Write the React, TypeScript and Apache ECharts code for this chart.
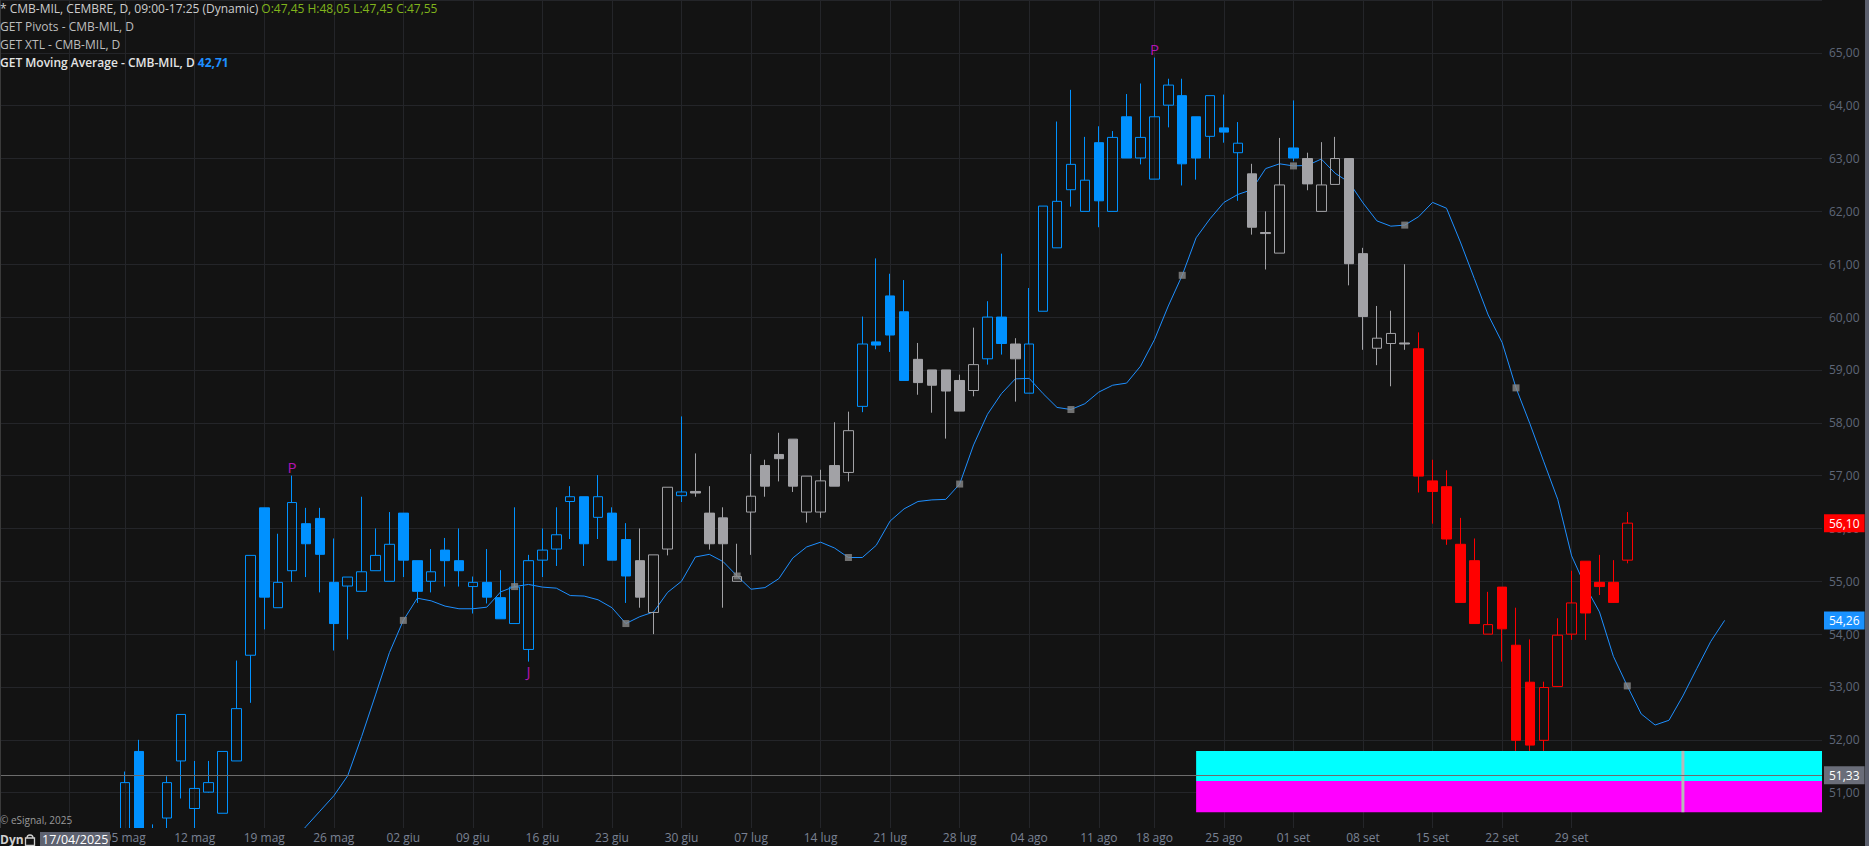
import React, { useEffect, useRef } from "react";
import * as echarts from "echarts";

// ---------- DATA ----------
const dates: string[] = [
  "2025-04-17", "2025-04-22", "2025-04-23", "2025-04-24", "2025-04-25", "2025-04-28", "2025-04-29", "2025-04-30", "2025-05-02", "2025-05-05",
  "2025-05-06", "2025-05-07", "2025-05-08", "2025-05-09", "2025-05-12", "2025-05-13", "2025-05-14", "2025-05-15", "2025-05-16", "2025-05-19",
  "2025-05-20", "2025-05-21", "2025-05-22", "2025-05-23", "2025-05-26", "2025-05-27", "2025-05-28", "2025-05-29", "2025-05-30", "2025-06-02",
  "2025-06-03", "2025-06-04", "2025-06-05", "2025-06-06", "2025-06-09", "2025-06-10", "2025-06-11", "2025-06-12", "2025-06-13", "2025-06-16",
  "2025-06-17", "2025-06-18", "2025-06-19", "2025-06-20", "2025-06-23", "2025-06-24", "2025-06-25", "2025-06-26", "2025-06-27", "2025-06-30",
  "2025-07-01", "2025-07-02", "2025-07-03", "2025-07-04", "2025-07-07", "2025-07-08", "2025-07-09", "2025-07-10", "2025-07-11", "2025-07-14",
  "2025-07-15", "2025-07-16", "2025-07-17", "2025-07-18", "2025-07-21", "2025-07-22", "2025-07-23", "2025-07-24", "2025-07-25", "2025-07-28",
  "2025-07-29", "2025-07-30", "2025-07-31", "2025-08-01", "2025-08-04", "2025-08-05", "2025-08-06", "2025-08-07", "2025-08-08", "2025-08-11",
  "2025-08-12", "2025-08-13", "2025-08-14", "2025-08-18", "2025-08-19", "2025-08-20", "2025-08-21", "2025-08-22", "2025-08-25", "2025-08-26",
  "2025-08-27", "2025-08-28", "2025-08-29", "2025-09-01", "2025-09-02", "2025-09-03", "2025-09-04", "2025-09-05", "2025-09-08", "2025-09-09",
  "2025-09-10", "2025-09-11", "2025-09-12", "2025-09-15", "2025-09-16", "2025-09-17", "2025-09-18", "2025-09-19", "2025-09-22", "2025-09-23",
  "2025-09-24", "2025-09-25", "2025-09-26", "2025-09-29", "2025-09-30", "2025-10-01", "2025-10-02", "2025-10-03", "2025-10-06", "2025-10-07",
  "2025-10-08", "2025-10-09", "2025-10-10", "2025-10-13", "2025-10-14", "2025-10-15", "2025-10-16", "2025-10-17", "2025-10-20", "2025-10-21",
  "2025-10-22", "2025-10-23",
];

const opens: (number | null)[] = [
  47.45, null, null, null, null, null, null, null, null, 50.0,
  51.78, 49.9, 50.52, 51.6, 50.7, 51.01, 50.61, 51.6, 53.6, 56.39,
  54.5, 55.2, 56.09, 56.19, 54.98, 54.91, 54.81, 55.2, 55.0, 56.29,
  55.39, 55.0, 55.59, 55.39, 54.9, 54.98, 54.69, 54.2, 53.71, 55.4,
  55.61, 56.51, 56.6, 56.21, 56.29, 55.79, 55.39, 54.41, 55.61, 56.62,
  56.7, 56.29, 56.2, 55.0, 56.31, 57.19, 57.4, 57.69, 56.31, 56.31,
  57.19, 57.06, 58.31, 59.53, 60.4, 60.1, 59.2, 59.0, 59.0, 58.8,
  58.61, 59.21, 60.0, 59.49, 58.56, 60.11, 61.31, 62.41, 62.0, 63.3,
  62.0, 63.79, 63.01, 62.61, 64.01, 64.19, 63.79, 63.42, 63.58, 63.11,
  62.71, 61.6, 61.21, 63.2, 63.0, 62.0, 62.51, 63.0, 61.2, 59.41,
  59.5, 59.51, 59.4, 56.9, 56.79, 55.7, 55.39, 54.0, 54.89, 53.79,
  53.09, 51.99, 53.01, 54.0, 55.38, 54.98, 54.98, 55.4,
];
const highs: (number | null)[] = [
  48.05, null, null, null, null, null, null, null, null, 51.4,
  52.0, 50.4, 51.31, 52.48, 51.6, 51.6, 51.78, 53.5, 55.49, 56.39,
  55.9, 57.0, 56.39, 56.39, 55.81, 55.08, 56.6, 56.0, 56.31, 56.29,
  55.39, 55.61, 55.82, 56.0, 55.09, 55.61, 55.21, 56.4, 55.5, 56.0,
  56.4, 56.8, 56.6, 57.01, 56.4, 56.1, 56.0, 55.5, 56.78, 58.12,
  57.42, 56.8, 56.4, 55.71, 57.41, 57.3, 57.81, 57.69, 56.99, 57.11,
  58.01, 58.21, 60.01, 61.11, 60.82, 60.7, 59.51, 59.0, 59.0, 58.91,
  59.8, 60.3, 61.2, 59.6, 60.55, 62.1, 63.7, 64.3, 63.41, 63.61,
  63.52, 64.22, 64.42, 64.91, 64.51, 64.51, 63.79, 64.19, 64.21, 63.69,
  62.9, 62.0, 63.39, 64.1, 63.11, 63.31, 63.41, 63.0, 61.31, 60.21,
  60.12, 61.0, 59.71, 57.3, 57.1, 56.2, 55.81, 54.8, 54.89, 54.5,
  53.9, 53.1, 54.3, 55.2, 55.38, 55.5, 55.4, 56.31,
];
const lows: (number | null)[] = [
  47.45, null, null, null, null, null, null, null, null, 49.9,
  49.8, 49.8, 50.2, 50.89, 50.2, 51.0, 50.61, 51.6, 52.7, 54.09,
  54.5, 54.99, 55.08, 54.79, 53.69, 53.9, 54.81, 55.2, 55.0, 55.08,
  54.59, 54.79, 54.9, 54.9, 54.39, 54.58, 54.29, 54.2, 53.48, 55.08,
  55.29, 55.8, 55.29, 55.8, 55.4, 54.59, 54.5, 54.0, 55.49, 56.5,
  56.6, 55.6, 54.5, 55.0, 55.5, 56.6, 56.89, 56.69, 56.11, 56.2,
  56.8, 56.89, 58.2, 59.39, 59.34, 58.8, 58.53, 58.19, 57.7, 58.22,
  58.5, 59.1, 59.29, 58.4, 58.56, 60.11, 61.31, 62.09, 62.0, 61.7,
  62.0, 63.01, 62.89, 62.61, 63.59, 62.49, 62.6, 63.0, 63.3, 62.2,
  61.56, 60.9, 61.21, 62.95, 62.4, 62.0, 62.51, 60.6, 59.38, 59.09,
  58.69, 59.38, 56.68, 56.09, 55.69, 54.6, 54.2, 54.0, 53.48, 51.79,
  51.79, 51.79, 53.01, 53.89, 53.89, 54.74, 54.74, 55.34,
];
const closes: (number | null)[] = [
  47.55, null, null, null, null, null, null, null, null, 51.19,
  50.0, 50.2, 51.19, 52.48, 51.08, 51.19, 51.78, 52.59, 55.49, 54.7,
  54.98, 56.49, 55.71, 55.51, 54.2, 55.08, 55.18, 55.49, 55.7, 55.4,
  54.81, 55.18, 55.39, 55.2, 54.98, 54.7, 54.29, 54.89, 55.39, 55.59,
  55.88, 56.6, 55.71, 56.6, 55.4, 55.1, 54.7, 55.5, 56.78, 56.69,
  56.67, 55.71, 55.71, 55.09, 56.61, 56.8, 57.32, 56.8, 56.99, 56.9,
  56.8, 57.85, 59.49, 59.47, 59.66, 58.8, 58.76, 58.71, 58.6, 58.22,
  59.1, 60.0, 59.5, 59.21, 59.49, 62.1, 62.19, 62.89, 62.59, 62.2,
  63.4, 63.01, 63.4, 63.79, 64.39, 62.9, 63.01, 64.19, 63.5, 63.29,
  61.7, 61.58, 62.5, 63.01, 62.52, 62.5, 63.0, 61.01, 60.01, 59.6,
  59.69, 59.49, 56.99, 56.7, 55.8, 54.6, 54.2, 54.18, 54.1, 51.99,
  51.9, 52.99, 53.98, 54.59, 54.4, 54.9, 54.6, 56.1,
];
// XTL trend state of every bar: B = bullish (blue), G = neutral (grey), R = bearish (red)
const trend: string[] = [
  "B", "B", "B", "B", "B", "B", "B", "B", "B", "B",
  "B", "B", "B", "B", "B", "B", "B", "B", "B", "B",
  "B", "B", "B", "B", "B", "B", "B", "B", "B", "B",
  "B", "B", "B", "B", "B", "B", "B", "B", "B", "B",
  "B", "B", "B", "B", "B", "B", "G", "G", "G", "B",
  "G", "G", "G", "G", "G", "G", "G", "G", "G", "G",
  "G", "G", "B", "B", "B", "B", "G", "G", "G", "G",
  "G", "B", "B", "G", "B", "B", "B", "B", "B", "B",
  "B", "B", "B", "B", "B", "B", "B", "B", "B", "B",
  "G", "G", "G", "B", "G", "G", "G", "G", "G", "G",
  "G", "G", "R", "R", "R", "R", "R", "R", "R", "R",
  "R", "R", "R", "R", "R", "R", "R", "R",
];
// displaced moving average (extends into the future)
const maValues: (number | null)[] = [
  null, null, null, null, null, null, null, null, null, null,
  null, null, null, null, null, null, null, null, null, null,
  49.75, 50.05, 50.36, 50.65, 50.94, 51.32, 52.06, 52.85, 53.65, 54.26,
  54.68, 54.63, 54.53, 54.48, 54.48, 54.51, 54.8, 54.9, 54.94, 54.89,
  54.87, 54.73, 54.72, 54.65, 54.5, 54.2, 54.33, 54.42, 54.79, 55.0,
  55.46, 55.51, 55.37, 55.1, 54.85, 54.88, 55.05, 55.44, 55.65, 55.74,
  55.63, 55.45, 55.45, 55.68, 56.14, 56.37, 56.51, 56.54, 56.55, 56.84,
  57.58, 58.16, 58.55, 58.83, 58.84, 58.55, 58.29, 58.25, 58.36, 58.58,
  58.71, 58.75, 59.07, 59.57, 60.21, 60.79, 61.5, 61.86, 62.17, 62.32,
  62.41, 62.81, 62.9, 62.86, 62.87, 62.99, 62.72, 62.55, 62.16, 61.82,
  61.72, 61.74, 61.9, 62.17, 62.06, 61.42, 60.73, 60.04, 59.52, 58.66,
  57.98, 57.26, 56.55, 55.48, 54.9, 54.42, 53.58, 53.02, 52.49, 52.28,
  52.37, 52.83, 53.35, 53.86, 54.26, null, null, null, null, null,
  null, null,
];
const pivotHighDates = ["2025-05-21", "2025-08-18"];
const pivotLowDates = ["2025-06-13"];
const crossPrice = 51.33;
const maHeaderValue = 42.71;
const zoneStart = "2025-08-21";
const zoneEnd = "2025-10-23";
const zoneLevels = [51.79, 51.22, 50.63]; // cyan top, boundary, magenta bottom
const zoneMarkerDate = "2025-10-09";
const firstLabelDate = "2025-05-05";
const monthsIt = ["gen", "feb", "mar", "apr", "mag", "giu", "lug", "ago", "set", "ott", "nov", "dic"];

// ---------- STYLE ----------
const FONT = '"Open Sans", "Noto Sans", sans-serif';
const BG = "#131313";
const GRID = "#242529";
const COLORS: Record<string, string> = { B: "#0091ff", G: "#a2a2a6", R: "#ff0000" };

const fmt = (v: number) => v.toFixed(2).replace(".", ",");
const lastDataIndex = opens.length - 1;
const firstLabelIndex = dates.indexOf(firstLabelDate);
const isMonday = (value: string) => new Date(value + "T00:00:00Z").getUTCDay() === 1;
const isGridDay = (index: number, value: string) => index <= lastDataIndex && isMonday(value);
const isLabelDay = (index: number, value: string) =>
  index >= firstLabelIndex && index <= lastDataIndex && isMonday(value);
const fmtDate = (value: string) => {
  const [, m, d] = value.split("-");
  return `${d} ${monthsIt[Number(m) - 1]}`;
};

export default function App() {
  const ref = useRef<HTMLDivElement>(null);

  useEffect(() => {
    if (!ref.current) return;
    const chart = echarts.init(ref.current, undefined, { renderer: "svg" });

    const candleData = opens.map((o, i) => {
      if (o == null) return "-";
      const c = COLORS[trend[i]];
      const fill = (closes[i] as number) >= o ? "transparent" : c;
      return {
        value: [o, closes[i], lows[i], highs[i]],
        itemStyle: { color: fill, color0: fill, borderColor: c, borderColor0: c, borderWidth: 1 },
      };
    });
    const maData = maValues.map((v) => (v == null ? "-" : v));
    const maMarkers = maValues
      .map((v, i) => (v != null && i % 8 === 5 ? [dates[i], v] : null))
      .filter((p) => p != null);
    const lastMa = [...maValues].reverse().find((v) => v != null) as number;
    const lastClose = closes[lastDataIndex] as number;
    const pivotHighs = pivotHighDates.map((d) => [d, highs[dates.indexOf(d)]]);
    const pivotLows = pivotLowDates.map((d) => [d, lows[dates.indexOf(d)]]);

    const tagLabel = (bg: string, text: string) => ({
      show: true,
      position: "end",
      distance: 2,
      formatter: text,
      backgroundColor: bg,
      color: "#ffffff",
      fontFamily: FONT,
      fontSize: 12,
      lineHeight: 14,
      padding: [2, 5, 2, 5],
    });

    const [y0, m0, d0] = dates[0].split("-");
    const headerOHLC = `O:${fmt(opens[0] as number)} H:${fmt(highs[0] as number)} L:${fmt(lows[0] as number)} C:${fmt(closes[0] as number)}`;

    const option: any = {
      animation: false,
      backgroundColor: BG,
      textStyle: { fontFamily: FONT },
      grid: [
        { left: 0, right: 47, top: -25.1, height: 870.6 },
        { left: 0, right: 47, top: 827, height: 1 },
      ],
      xAxis: [
        {
          type: "category",
          gridIndex: 0,
          data: dates,
          boundaryGap: false,
          axisLine: { show: false },
          axisTick: { show: false },
          axisLabel: { show: false },
          splitLine: { show: true, interval: isGridDay, lineStyle: { color: GRID, width: 1 } },
        },
        {
          type: "category",
          gridIndex: 1,
          data: dates,
          boundaryGap: false,
          z: 60,
          axisLine: { show: false },
          axisTick: { show: false },
          splitLine: { show: false },
          axisLabel: {
            interval: isLabelDay,
            formatter: fmtDate,
            color: "#7a8294",
            fontSize: 12,
            fontFamily: FONT,
            margin: 3,
          },
        },
      ],
      yAxis: [
        {
          type: "value",
          gridIndex: 0,
          position: "right",
          min: 50,
          max: 66,
          interval: 1,
          axisLine: { show: false },
          axisTick: { show: false },
          axisLabel: {
            formatter: (v: number) => (v <= 50 || v >= 66 ? "" : fmt(v)),
            color: "#5f6778",
            fontSize: 12,
            fontFamily: FONT,
            margin: 7,
          },
          splitLine: { show: true, lineStyle: { color: GRID, width: 1 } },
        },
        { type: "value", gridIndex: 1, show: false },
      ],
      series: [
        {
          type: "line",
          name: "MA",
          data: maData,
          symbol: "none",
          z: 1,
          silent: true,
          lineStyle: { color: "#1e8fff", width: 1 },
        },
        {
          type: "candlestick",
          name: "CMB",
          data: candleData,
          barWidth: 10,
          clip: true,
          z: 2,
          silent: true,
          markArea: {
            silent: true,
            label: { show: false },
            data: [
              [
                { xAxis: zoneStart, yAxis: zoneLevels[0], itemStyle: { color: "#00ffff", opacity: 1 } },
                { xAxis: zoneEnd, yAxis: zoneLevels[1] },
              ],
              [
                { xAxis: zoneStart, yAxis: zoneLevels[1], itemStyle: { color: "#ff00ff", opacity: 1 } },
                { xAxis: zoneEnd, yAxis: zoneLevels[2] },
              ],
            ],
          },
          markLine: {
            silent: true,
            symbol: ["none", "none"],
            data: [
              {
                yAxis: crossPrice,
                lineStyle: { color: "#6c6c6c", width: 1, type: "solid" },
                label: tagLabel("#6a6d79", fmt(crossPrice)),
              },
              {
                yAxis: lastClose,
                lineStyle: { color: "transparent", width: 1, type: "solid" },
                label: tagLabel("#ff0000", fmt(lastClose)),
              },
              {
                yAxis: lastMa,
                lineStyle: { color: "transparent", width: 1, type: "solid" },
                label: tagLabel("#1a92ff", fmt(lastMa)),
              },
            ],
          },
        },
        {
          type: "line",
          name: "zoneMarker",
          data: [
            [zoneMarkerDate, zoneLevels[0]],
            [zoneMarkerDate, zoneLevels[2]],
          ],
          symbol: "none",
          z: 4,
          silent: true,
          lineStyle: { color: "#b8b8b8", width: 3 },
        },
        {
          type: "scatter",
          name: "maMarkers",
          data: maMarkers,
          symbol: "rect",
          symbolSize: 7,
          z: 3,
          silent: true,
          itemStyle: { color: "#8a8a8a" },
        },
        {
          type: "scatter",
          name: "pivotHigh",
          data: pivotHighs,
          symbolSize: 1,
          z: 4,
          silent: true,
          itemStyle: { color: "transparent" },
          label: {
            show: true,
            position: "top",
            distance: 1,
            formatter: "P",
            color: "#dc14dc",
            fontSize: 15,
            fontFamily: FONT,
          },
        },
        {
          type: "scatter",
          name: "pivotLow",
          data: pivotLows,
          symbolSize: 1,
          z: 4,
          silent: true,
          itemStyle: { color: "transparent" },
          label: {
            show: true,
            position: "bottom",
            distance: 1,
            formatter: "J",
            color: "#dc14dc",
            fontSize: 15,
            fontFamily: FONT,
          },
        },
      ],
      graphic: [
        // band below the plot area (x axis labels)
        { type: "rect", z: 50, silent: true, shape: { x: 0, y: 828, width: 1822, height: 18 }, style: { fill: BG } },
        // left border
        { type: "line", z: 51, silent: true, shape: { x1: 0.5, y1: 0, x2: 0.5, y2: 828 }, style: { stroke: "#3a3a3a", lineWidth: 1 } },
        // right scroll strip
        { type: "rect", z: 51, silent: true, shape: { x: 1865, y: 0, width: 4, height: 846 }, style: { fill: "#5c606e" } },
        // header
        {
          type: "text",
          z: 100,
          x: 0,
          y: 8,
          silent: true,
          style: {
            text: `{a|* CMB-MIL, CEMBRE, D, 09:00-17:25 (Dynamic) }{b|${headerOHLC}}`,
            verticalAlign: "middle",
            rich: {
              a: { fill: "#cdcdcd", color: "#cdcdcd", fontSize: 12, fontFamily: FONT },
              b: { fill: "#80b41c", color: "#80b41c", fontSize: 12, fontFamily: FONT },
            },
          },
        },
        {
          type: "text",
          z: 100,
          x: 0,
          y: 26.5,
          silent: true,
          style: { text: "GET Pivots - CMB-MIL, D", fill: "#bdbdbd", fontSize: 12, fontFamily: FONT, verticalAlign: "middle" },
        },
        {
          type: "text",
          z: 100,
          x: 0,
          y: 44.5,
          silent: true,
          style: { text: "GET XTL - CMB-MIL, D", fill: "#bdbdbd", fontSize: 12, fontFamily: FONT, verticalAlign: "middle" },
        },
        {
          type: "text",
          z: 100,
          x: 0,
          y: 62,
          silent: true,
          style: {
            text: `{a|GET Moving Average - CMB-MIL, D }{b|${fmt(maHeaderValue)}}`,
            verticalAlign: "middle",
            rich: {
              a: { fill: "#e4e4e4", color: "#e4e4e4", fontSize: 12, fontWeight: 600, fontFamily: FONT },
              b: { fill: "#1e8fff", color: "#1e8fff", fontSize: 12, fontWeight: 700, fontFamily: FONT },
            },
          },
        },
        // footer
        {
          type: "text",
          z: 100,
          x: 0,
          y: 820,
          silent: true,
          style: { text: "© eSignal, 2025", fill: "#9a9a9a", fontSize: 10, fontFamily: FONT, verticalAlign: "middle" },
        },
        {
          type: "text",
          z: 100,
          x: 0,
          y: 839,
          silent: true,
          style: { text: "Dyn", fill: "#d0d0d0", fontSize: 12, fontWeight: 700, fontFamily: FONT, verticalAlign: "middle" },
        },
        { type: "rect", z: 100, silent: true, shape: { x: 25.5, y: 838, width: 9, height: 7.5 }, style: { fill: "none", stroke: "#cfcfcf", lineWidth: 1.3 } },
        {
          type: "arc",
          z: 100,
          silent: true,
          shape: { cx: 30, cy: 838, r: 3, startAngle: Math.PI, endAngle: Math.PI * 2, clockwise: true },
          style: { fill: "none", stroke: "#cfcfcf", lineWidth: 1.3 },
        },
        { type: "rect", z: 100, silent: true, shape: { x: 40, y: 832, width: 70, height: 14 }, style: { fill: "#5e6270" } },
        {
          type: "text",
          z: 101,
          x: 42,
          y: 839.5,
          silent: true,
          style: { text: `${d0}/${m0}/${y0}`, fill: "#ffffff", fontSize: 12.5, fontFamily: FONT, verticalAlign: "middle" },
        },
      ],
    };

    chart.setOption(option);
    return () => chart.dispose();
  }, []);

  return (
    <div
      ref={ref}
      style={{ position: "fixed", left: 0, top: 0, width: 1869, height: 846, background: BG }}
    />
  );
}
